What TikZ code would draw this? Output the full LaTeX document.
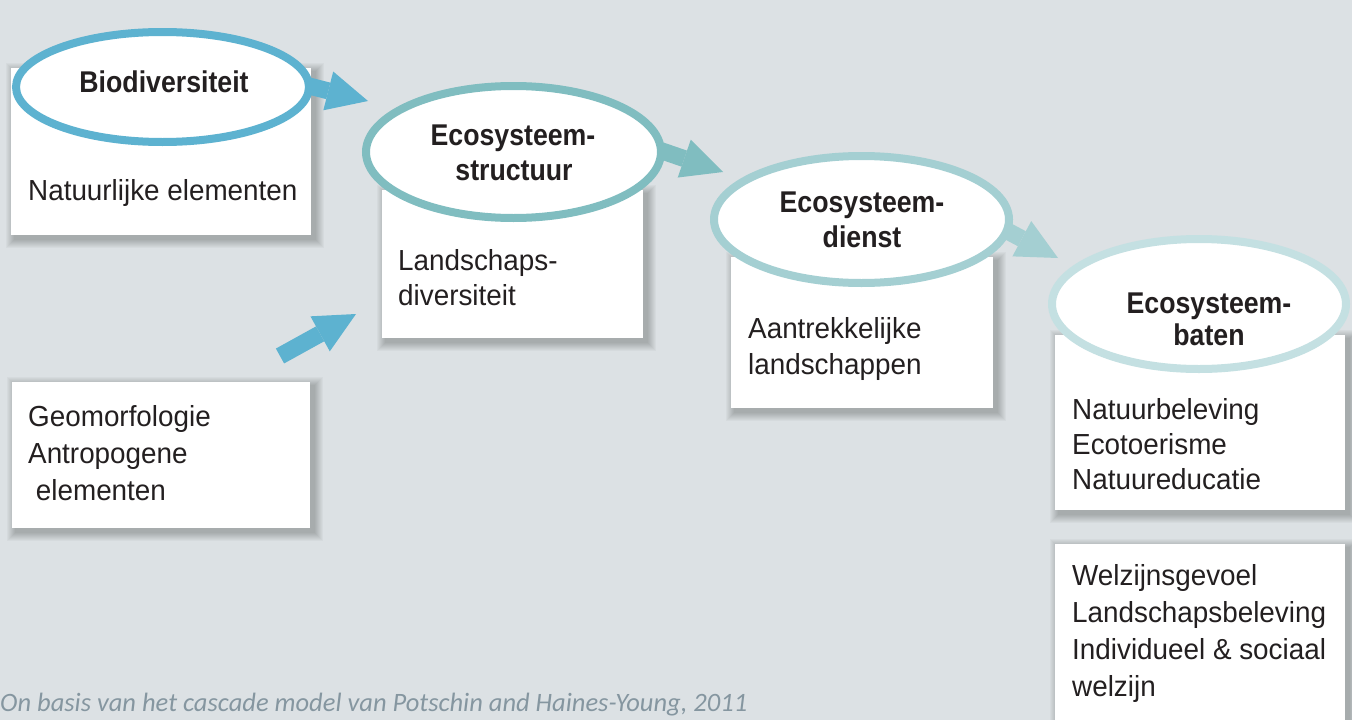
\documentclass[tikz,border=0pt]{standalone}
\usepackage{fontspec}
\setmainfont{Liberation Sans}[FakeStretch=0.96]
\newfontfamily\titlefont{Liberation Sans Bold}[FakeStretch=0.89]
\newfontfamily\capfont{Carlito Italic}
\usetikzlibrary{shapes.geometric,arrows.meta}
\definecolor{bgc}{HTML}{DCE1E4}
\definecolor{cA}{HTML}{5DB2D0}
\definecolor{cB}{HTML}{80BDC0}
\definecolor{cC}{HTML}{A4CFD2}
\definecolor{cD}{HTML}{C4E0E2}
\definecolor{txt}{HTML}{231F20}
\definecolor{capc}{HTML}{8596A0}
\newcommand{\boxshadow}[1]{%
  \foreach \i in {1,...,9}{%
    \fill[black, opacity=0.028]
      ([xshift={(4-\i)*1pt}, yshift={(\i-4)*1pt}]#1.north west) rectangle
      ([xshift={(4+\i)*1pt}, yshift={(-4-\i)*1pt}]#1.south east);
  }%
  \fill[white] (#1.north west) rectangle (#1.south east);
}
\tikzset{
  boxstyle/.style={rectangle, draw=none, inner sep=0pt, anchor=north west},
  ell/.style={ellipse, fill=white, line width=8pt, inner sep=0pt},
  bigarrow/.style={line width=17pt, -{Triangle[length=41pt,width=40pt,line width=0pt]}},
  body/.style={anchor=base west, inner sep=0pt, text=txt, font=\fontsize{29}{36}\selectfont},
  title/.style={anchor=base, inner sep=0pt, text=txt, font=\titlefont\fontsize{30}{35}\selectfont},
}
\begin{document}
\begin{tikzpicture}[x=1pt,y=-1pt]
\fill[bgc] (0,0) rectangle (1352,720);
\useasboundingbox (0,0) rectangle (1352,720);
\clip (0,0) rectangle (1352,720);

% boxes
\node[boxstyle, minimum width=300pt, minimum height=167pt] (b1) at (11,68) {};
\node[boxstyle, minimum width=261pt, minimum height=148pt] (b2) at (382,190) {};
\node[boxstyle, minimum width=262pt, minimum height=151pt] (b3) at (731,257) {};
\node[boxstyle, minimum width=290pt, minimum height=175pt] (b4) at (1055,335) {};
\node[boxstyle, minimum width=290pt, minimum height=200pt] (b5) at (1055,544) {};
\node[boxstyle, minimum width=298pt, minimum height=146pt] (b6) at (12,382) {};
\boxshadow{b1}
\boxshadow{b2}
\boxshadow{b3}
\boxshadow{b4}
\boxshadow{b5}
\boxshadow{b6}

% ellipses
\node[ell, draw=cA, minimum width=293pt, minimum height=110pt] (e1) at (162.5,87) {};
\node[ell, draw=cB, minimum width=295pt, minimum height=132pt] (e2) at (513.5,152) {};
\node[ell, draw=cC, minimum width=295pt, minimum height=127pt] (e3) at (861.5,219.5) {};
\node[ell, draw=cD, minimum width=294pt, minimum height=130pt] (e4) at (1199,304) {};

% arrows
\coordinate (a1t) at (368,101);
\coordinate (a2t) at (723,172);
\coordinate (a3t) at (1058,258);
\coordinate (a6s) at (280,356);
\coordinate (a6t) at (356,314);
\draw[bigarrow, cA, shorten <=-4pt] (e1.east) -- (a1t);
\draw[bigarrow, cB, shorten <=-4pt] (e2.east) -- (a2t);
\draw[bigarrow, cC, shorten <=-4pt] (e3.-5) -- (a3t);
\draw[bigarrow, cA] (a6s) -- (a6t);

% titles
\node[title] (t1) at (164,92) {Biodiversiteit};
\node[title] (t2a) at (513,145) {Ecosysteem-};
\node[title] (t2b) at (514,180) {structuur};
\node[title] (t3a) at (862,212) {Ecosysteem-};
\node[title] (t3b) at (862,247) {dienst};
\node[title] (t4a) at (1209,313) {Ecosysteem-};
\node[title] (t4b) at (1209,345) {baten};

% body texts
\node[body] (x1) at (28,200) {Natuurlijke elementen};
\node[body] (x2a) at (398,270) {Landschaps-};
\node[body] (x2b) at (398,305) {diversiteit};
\node[body] (x3a) at (748,338) {Aantrekkelijke};
\node[body] (x3b) at (748,374) {landschappen};
\node[body] (x4a) at (1072,419) {Natuurbeleving};
\node[body] (x4b) at (1072,454) {Ecotoerisme};
\node[body] (x4c) at (1072,489) {Natuureducatie};
\node[body] (x5a) at (1072,585) {Welzijnsgevoel};
\node[body] (x5b) at (1072,622) {Landschapsbeleving};
\node[body] (x5c) at (1072,659) {Individueel \& sociaal};
\node[body] (x5d) at (1072,696) {welzijn};
\node[body] (x6a) at (28,426) {Geomorfologie};
\node[body] (x6b) at (28,463) {Antropogene};
\node[body] (x6c) at (28,500) {\ elementen};

% caption
\node[anchor=base west, inner sep=0pt, text=capc, font=\capfont\fontsize{26.5}{30}\selectfont] (cap) at (0,711) {On basis van het cascade model van Potschin and Haines-Young, 2011};
\end{tikzpicture}
\end{document}
